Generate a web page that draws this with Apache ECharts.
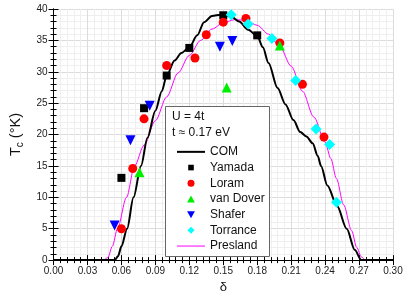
<!DOCTYPE html>
<html><head><meta charset="utf-8">
<script src="https://cdn.jsdelivr.net/npm/echarts@6/dist/echarts.min.js"></script>
<style>html,body{margin:0;padding:0;background:#fff}#c{width:407px;height:299px}</style>
</head><body><div id="c"></div>
<script>
const xTickLabels = ['0.00','0.03','0.06','0.09','0.12','0.15','0.18','0.21','0.24','0.27','0.30'];
const yTickLabels = ['0','5','10','15','20','25','30','35','40'];
const legendNames = ['COM','Yamada','Loram','van Dover','Shafer','Torrance','Presland'];
const infoLines = ['U = 4t','t \u2248 0.17 eV'];

const comCurve = [[0,0],[0.054,0],[0.057,0.6],[0.060,2.2],[0.065,5],[0.0707,10],[0.0773,15],[0.083,19.5],[0.090,23.8],[0.0957,26.9],[0.100,29.4],[0.107,31.8],[0.113,33.0],[0.120,33.9],[0.127,35.8],[0.133,37.9],[0.140,38.9],[0.148,39.1],[0.157,38.8],[0.164,38.0],[0.172,36.7],[0.180,35.7],[0.185,33.9],[0.190,31.4],[0.198,27.4],[0.205,24.8],[0.212,22.3],[0.218,20.4],[0.2235,19.7],[0.229,18.6],[0.2335,16.6],[0.2364,15.0],[0.242,11.9],[0.2506,8.6],[0.2591,5.0],[0.2663,1.6],[0.272,0],[0.30,0]];
const preslandCurve = [[0,0],[0.044,0],[0.048,0.4],[0.052,2.2],[0.0565,5],[0.0645,10],[0.0716,15],[0.080,18.3],[0.090,22.2],[0.100,26.0],[0.110,29.8],[0.120,32.6],[0.130,35.0],[0.140,36.8],[0.150,37.8],[0.160,38.3],[0.170,38.2],[0.180,37.4],[0.190,36.0],[0.200,34.0],[0.210,30.9],[0.220,26.9],[0.230,22.8],[0.240,18.8],[0.245,16.2],[0.250,13.0],[0.2564,8.8],[0.2634,4.7],[0.268,2.0],[0.272,0.5],[0.276,0],[0.30,0]];
const yamada = [[0.06,13.1],[0.08,24.2],[0.10,29.4],[0.12,33.8],[0.15,39.0],[0.18,35.8]];
const loram = [[0.06,5.0],[0.07,14.6],[0.08,22.5],[0.10,31.0],[0.125,32.2],[0.135,35.9],[0.15,37.9],[0.17,38.5],[0.20,34.6],[0.22,28.0],[0.239,19.6]];
const vanDover = [[0.076,14.0],[0.153,27.5],[0.20,34.2]];
const shafer = [[0.054,5.5],[0.068,19.1],[0.085,24.6],[0.147,34.0],[0.158,34.9]];
const torrance = [[0.157,39.1],[0.172,37.6],[0.193,35.3],[0.214,28.6],[0.232,20.9],[0.244,18.4],[0.25,9.2]];

const FONT = "'Liberation Sans', Arial, sans-serif";
const chart = echarts.init(document.getElementById('c'), null, {renderer:'canvas'});

const axLine = {show:true, lineStyle:{color:'#000', width:1}};
const tick = {show:true, inside:true, length:5, lineStyle:{color:'#000', width:1}};
const mtick = () => ({show:true, splitNumber:5, length:3, lineStyle:{color:'#000', width:1}});

const icons = {
  line2:'path://M0,0h28v2h-28z',
  line1:'path://M0,0h28v1h-28z',
  square:'path://M0,0M1,1h8v8h-8zM10,10',
  circle:'path://M5,0A5,5,0,1,1,5,10A5,5,0,1,1,5,0z',
  tri:'path://M5,0L10,9L0,9z',
  itri:'path://M0,1L10,1L5,10z',
  diamond:'path://M5,0L10,5L5,10L0,5z'
};
const legendIconList = [icons.line2, icons.square, icons.circle, icons.tri, icons.itri, icons.diamond, icons.line1];
const legendData = legendNames.map((n,i)=>({name:n, icon:legendIconList[i], itemStyle:{opacity:1}}));

const option = {
  animation:false,
  backgroundColor:'#fff',
  grid:{left:41, right:14, top:9, bottom:32, containLabel:false},
  xAxis:[{
    type:'value', min:0, max:0.30, interval:0.03, position:'bottom',
    name:'\u03b4', nameLocation:'middle', nameGap:19,
    nameTextStyle:{fontFamily:FONT, fontSize:13, color:'#111'},
    axisLine:axLine, axisTick:tick, minorTick:mtick(),
    axisLabel:{fontFamily:FONT, fontSize:10, color:'#222', margin:6,
      formatter:v=>xTickLabels[Math.round(v/0.03)]},
    splitLine:{show:true, lineStyle:{color:'#dcdcdc', width:1}},
    minorSplitLine:{show:true, lineStyle:{color:'#efefef', width:1}}
  },{
    type:'value', min:0, max:0.30, interval:0.03, position:'top',
    axisLine:axLine, axisTick:tick, minorTick:mtick(),
    axisLabel:{show:false}, splitLine:{show:false}
  }],
  yAxis:[{
    type:'value', min:0, max:40, interval:5, position:'left',
    name:'{a|T}{b|c}{a| (\u00b0K)}', nameLocation:'middle', nameGap:25, nameRotate:90,
    nameTextStyle:{fontFamily:FONT, color:'#111',
      rich:{a:{fontFamily:FONT, fontSize:14.5, lineHeight:20, color:'#111'},
            b:{fontFamily:FONT, fontSize:10, lineHeight:20, verticalAlign:'bottom', color:'#111', padding:[5,0,0,0]}}},
    axisLine:axLine, axisTick:tick, minorTick:mtick(),
    axisLabel:{fontFamily:FONT, fontSize:10, color:'#222', margin:6,
      formatter:v=>yTickLabels[Math.round(v/5)]},
    splitLine:{show:true, lineStyle:{color:'#dcdcdc', width:1}},
    minorSplitLine:{show:true, lineStyle:{color:'#efefef', width:1}}
  },{
    type:'value', min:0, max:40, interval:5, position:'right',
    axisLine:axLine, axisTick:tick, minorTick:mtick(),
    axisLabel:{show:false}, splitLine:{show:false}
  }],
  legend:{
    orient:'vertical', left:172, top:139, itemWidth:28, itemHeight:7, itemGap:0,
    symbolKeepAspect:true,
    data:legendData, selectedMode:false,
    textStyle:{fontFamily:FONT, fontSize:12, color:'#111', lineHeight:15.7},
    z:10
  },
  graphic:[
    {type:'rect', shape:{x:165.5, y:106.5, width:104, height:150}, style:{fill:'#fff', stroke:'#666', lineWidth:1}, z:8, silent:true},
    {type:'text', left:172, top:111, z:9, style:{text:infoLines[0], font:"12px 'Liberation Sans', Arial", fill:'#111'}},
    {type:'text', left:172, top:127, z:9, style:{text:infoLines[1], font:"12px 'Liberation Sans', Arial", fill:'#111'}}
  ],
  series:[
    {name:legendNames[6], type:'line', data:preslandCurve, showSymbol:false, symbol:'none', smooth:0.3, smoothMonotone:'x',
      lineStyle:{color:'#ff00ff', width:1}, itemStyle:{color:'#ff00ff'}, z:2},
    {name:legendNames[0], type:'line', data:comCurve, showSymbol:false, symbol:'none', smooth:0.3, smoothMonotone:'x',
      lineStyle:{color:'#000', width:2}, itemStyle:{color:'#000'}, z:3},
    {name:legendNames[1], type:'scatter', data:yamada, symbol:'rect', symbolSize:8, itemStyle:{color:'#000', opacity:1}, z:4},
    {name:legendNames[2], type:'scatter', data:loram, symbol:'circle', symbolSize:9, itemStyle:{color:'#ff0000', opacity:1}, z:4},
    {name:legendNames[3], type:'scatter', data:vanDover, symbol:'triangle', symbolSize:10, itemStyle:{color:'#00ee00', opacity:1}, z:4},
    {name:legendNames[4], type:'scatter', data:shafer, symbol:'triangle', symbolRotate:180, symbolSize:10, itemStyle:{color:'#0000ff', opacity:1}, z:4},
    {name:legendNames[5], type:'scatter', data:torrance, symbol:'diamond', symbolSize:11, itemStyle:{color:'#00ffff', opacity:1}, z:4}
  ]
};
chart.setOption(option);
</script>
</body></html>
